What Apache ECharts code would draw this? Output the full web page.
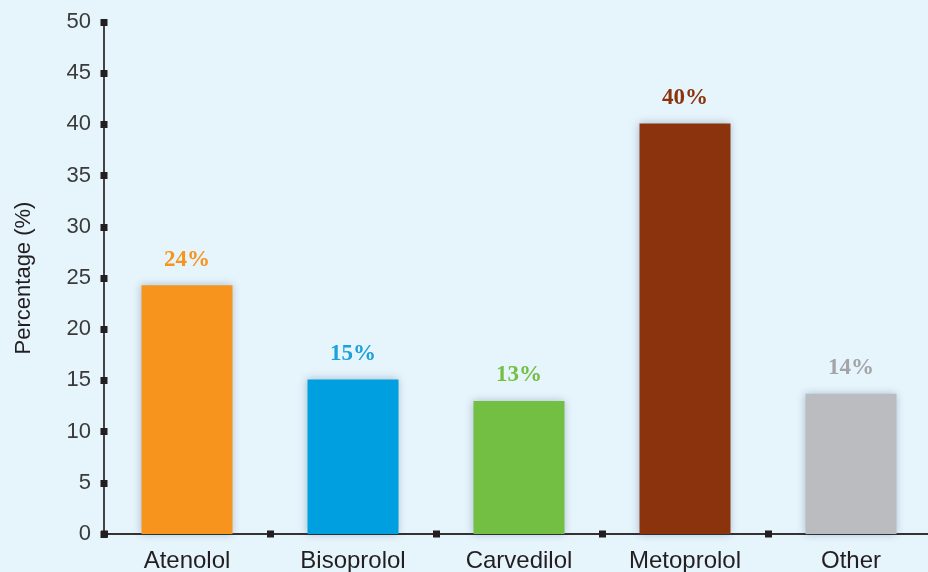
<!DOCTYPE html>
<html>
<head>
<meta charset="utf-8">
<title>Beta-blocker use</title>
<script src="https://cdn.jsdelivr.net/npm/echarts@6/dist/echarts.min.js"></script>
<style>
  html, body { margin: 0; padding: 0; background: #e6f4fc; }
  #chart { width: 928px; height: 572px; }
</style>
</head>
<body>
<div id="chart"></div>
<script>
// Drug categories and their share (%)
const categories = ['Atenolol', 'Bisoprolol', 'Carvedilol', 'Metoprolol', 'Other'];
const percentages = [24.3, 15.1, 13.0, 40.1, 13.7];
const barColors = ['#f7941d', '#009fdf', '#72bf44', '#8a330d', '#bbbcbf'];
const labelColors = ['#f7941d', '#1ba1dc', '#72bf44', '#8a330d', '#a3a4a8'];

// Y scale
const yMin = 0;
const yMax = 50;
const yStep = 5;

const chart = echarts.init(document.getElementById('chart'), null, { renderer: 'canvas' });

const squareTick = { show: true, length: 3.5, lineStyle: { color: '#231f20', width: 7, cap: 'butt' } };

chart.setOption({
  backgroundColor: '#e6f4fc',
  animation: false,
  grid: { left: 104, right: -6, top: 22, bottom: 38, containLabel: false, outerBoundsMode: 'none' },
  xAxis: [
    {
      type: 'category',
      data: categories,
      axisLine: { lineStyle: { color: '#333', width: 2 } },
      axisTick: squareTick,
      axisLabel: {
        color: '#231f20',
        fontFamily: 'Liberation Sans, Arial, sans-serif',
        fontSize: 24,
        margin: 15
      },
      splitLine: { show: false }
    },
    {
      type: 'category',
      data: categories,
      position: 'bottom',
      axisLine: { show: false },
      axisTick: Object.assign({}, squareTick, { inside: true }),
      axisLabel: { show: false },
      splitLine: { show: false }
    }
  ],
  yAxis: [
    {
      type: 'value',
      min: yMin,
      max: yMax,
      interval: yStep,
      name: 'Percentage (%)',
      nameLocation: 'middle',
      nameGap: 69,
      nameRotate: 90,
      nameTextStyle: {
        color: '#231f20',
        fontFamily: 'Liberation Sans, Arial, sans-serif',
        fontSize: 22
      },
      axisLine: { show: true, lineStyle: { color: '#444', width: 2 } },
      axisTick: squareTick,
      axisLabel: {
        color: '#3a3a3a',
        fontFamily: 'Liberation Sans, Arial, sans-serif',
        fontSize: 22,
        margin: 13
      },
      splitLine: { show: false }
    },
    {
      type: 'value',
      min: yMin,
      max: yMax,
      interval: yStep,
      position: 'left',
      axisLine: { show: false },
      axisTick: Object.assign({}, squareTick, { inside: true }),
      axisLabel: { show: false },
      splitLine: { show: false }
    }
  ],
  series: [
    {
      type: 'bar',
      xAxisIndex: 0,
      yAxisIndex: 0,
      barWidth: 91,
      data: percentages.map((v, i) => ({
        value: v,
        itemStyle: { color: barColors[i] },
        label: { color: labelColors[i] }
      })),
      itemStyle: {
        shadowBlur: 8,
        shadowColor: 'rgba(0, 50, 80, 0.28)',
        shadowOffsetX: -1,
        shadowOffsetY: 0
      },
      label: {
        show: true,
        position: 'top',
        distance: 14,
        fontFamily: 'Liberation Serif, Times New Roman, serif',
        fontWeight: 'bold',
        fontSize: 23,
        formatter: p => Math.round(p.value) + '%'
      }
    }
  ]
});
</script>
</body>
</html>
